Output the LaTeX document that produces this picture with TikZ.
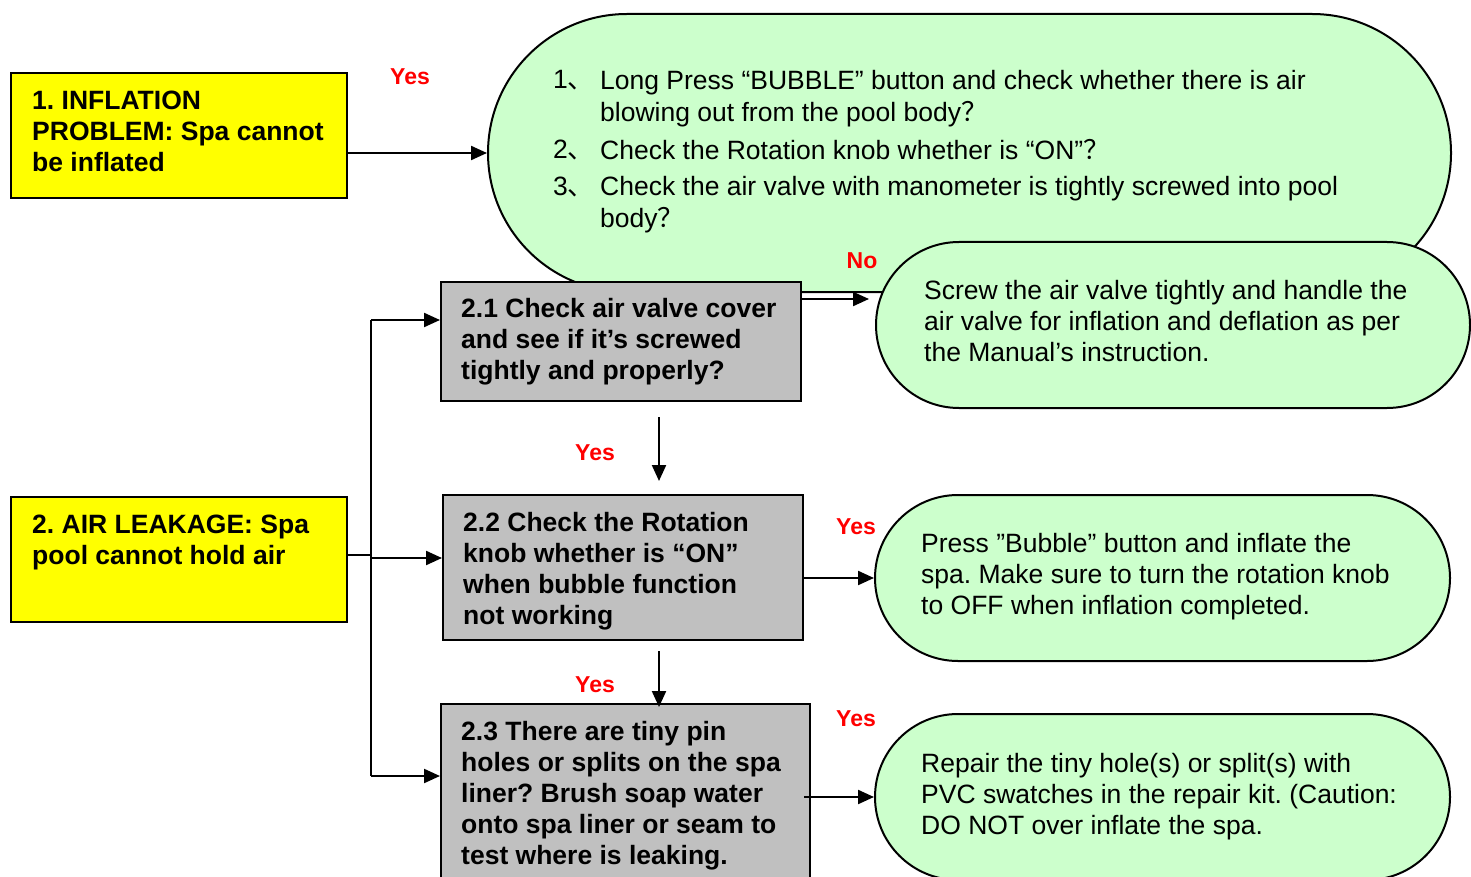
\documentclass[tikz,border=0pt]{standalone}
\usepackage{fontspec}
\setmainfont{Liberation Sans}
\newfontfamily\cjk{Noto Sans CJK SC}
\usetikzlibrary{arrows.meta,calc}
\definecolor{pgreen}{HTML}{CCFFCC}
\definecolor{pgray}{HTML}{C0C0C0}
\definecolor{pyellow}{HTML}{FFFF00}
\definecolor{pred}{HTML}{FF0000}
\frenchspacing
\begin{document}
\begin{tikzpicture}[x=1pt,y=-1pt,
  pill/.style={draw=black, fill=pgreen, line width=2pt, inner sep=0pt},
  ybox/.style={draw=black, fill=pyellow, line width=2pt, inner sep=0pt},
  gbox/.style={draw=black, fill=pgray, line width=2pt, inner sep=0pt},
  txt/.style={anchor=north west, inner sep=0pt, align=left, font=\fontsize{26.5}{31}\selectfont},
  btxt/.style={anchor=north west, inner sep=0pt, align=left, font=\fontsize{26.5}{31}\selectfont\bfseries},
  lbl/.style={inner sep=0pt, text=pred, font=\fontsize{23}{26}\selectfont\bfseries},
  arr/.style={draw=black, line width=2.2pt, -{Triangle[length=16pt,width=14pt]}},
  ln/.style={draw=black, line width=2.2pt}]
\useasboundingbox (0,0) rectangle (1471,877);
\clip (0,0) rectangle (1471,877);
\fill[white] (0,0) rectangle (1471,877);

% big top pill
\node[pill, minimum width=963pt, minimum height=278pt, rounded corners=139pt] (e1) at (969.5,153) {};

% yellow boxes
\node[ybox, minimum width=336pt, minimum height=125pt] (b1) at (179,135.5) {};
\node[ybox, minimum width=336pt, minimum height=125pt] (b2) at (179,559.5) {};

% gray boxes
\node[gbox, minimum width=360pt, minimum height=119pt] (b21) at (621,341.5) {};
\node[gbox, minimum width=360pt, minimum height=145pt] (b22) at (623,567.5) {};
\node[gbox, minimum width=369pt, minimum height=196pt] (b23) at (625.5,802) {};

% green pills
\node[pill, minimum width=594pt, minimum height=166pt, rounded corners=83pt] (e2) at (1173,325) {};
\node[pill, minimum width=575pt, minimum height=166pt, rounded corners=83pt] (e3) at (1162.5,578) {};
\node[pill, minimum width=575pt, minimum height=166pt, rounded corners=83pt] (e4) at (1162.5,797) {};

% connectors
\draw[arr] (b1.east |- e1.west) -- (e1.west);
\coordinate (jm) at (371,555);
\coordinate (jt) at (371,320);
\coordinate (jb) at (371,776);
\draw[ln] (b2.east |- jm) -- (jm);
\draw[ln] (jt) -- (jb);
\draw[arr] (jt) -- (jt -| b21.west);
\draw[arr] (371,558) -- (b22.west |- 0,558);
\draw[arr] (jb) -- (jb -| b23.west);
\draw[arr, shorten <=15pt, shorten >=13pt] ([xshift=38pt]b21.south) -- ([xshift=36pt]b22.north);
\draw[arr, shorten <=10pt, shorten >=-4pt] ([xshift=36pt]b22.south) -- ([xshift=33.5pt]b23.north);
\draw[arr, shorten >=6pt] ([yshift=42.5pt]b21.east) -- ([yshift=42.5pt]b21.east -| e2.west);
\draw[arr] (b22.east |- e3.west) -- (e3.west);
\draw[arr] ([xshift=-7pt]b23.east |- e4.west) -- (e4.west);

% labels
\node[lbl] (y1) at (410,77) {Yes};
\node[lbl] (n1) at (862,261) {No};
\node[lbl] (y2) at (595,453) {Yes};
\node[lbl] (y3) at (856,527) {Yes};
\node[lbl] (y4) at (595,685) {Yes};
\node[lbl] (y5) at (856,719) {Yes};

% texts
\node[btxt] (t1) at (32,90.5) {1. INFLATION\\PROBLEM: Spa cannot\\be inflated};
\node[btxt] (t2) at (32,514.5) {2. AIR LEAKAGE: Spa\\pool cannot hold air};

\node[txt] (n1a) at (553,70.5) {1{\cjk 、}};
\node[txt, font=\fontsize{26.5}{32}\selectfont] (p1) at (600,70.5) {Long Press “BUBBLE” button and check whether there is air\\blowing out from the pool body{\cjk ？}};
\node[txt] (n2a) at (553,139.5) {2{\cjk 、}};
\node[txt] (p2) at (600,139.5) {Check the Rotation knob whether is “ON”{\cjk ？}};
\node[txt] (n3a) at (553,176.5) {3{\cjk 、}};
\node[txt, font=\fontsize{26.5}{32}\selectfont] (p3) at (600,176.5) {Check the air valve with manometer is tightly screwed into pool\\body{\cjk ？}};

\node[txt] (te2) at (924,280.5) {Screw the air valve tightly and handle the\\air valve for inflation and deflation as per\\the Manual’s instruction.};
\node[btxt] (t21) at (461,298.5) {2.1 Check air valve cover\\and see if it’s screwed\\tightly and properly?};
\node[btxt] (t22) at (463,512.5) {2.2 Check the Rotation\\knob whether is “ON”\\when bubble function\\not working};
\node[txt] (te3) at (921,533.5) {Press ”Bubble” button and inflate the\\spa. Make sure to turn the rotation knob\\to OFF when inflation completed.};
\node[btxt] (t23) at (461,721.5) {2.3 There are tiny pin\\holes or splits on the spa\\liner? Brush soap water\\onto spa liner or seam to\\test where is leaking.};
\node[txt] (te4) at (921,753.5) {Repair the tiny hole(s) or split(s) with\\PVC swatches in the repair kit. (Caution:\\DO NOT over inflate the spa.};
\end{tikzpicture}
\end{document}
